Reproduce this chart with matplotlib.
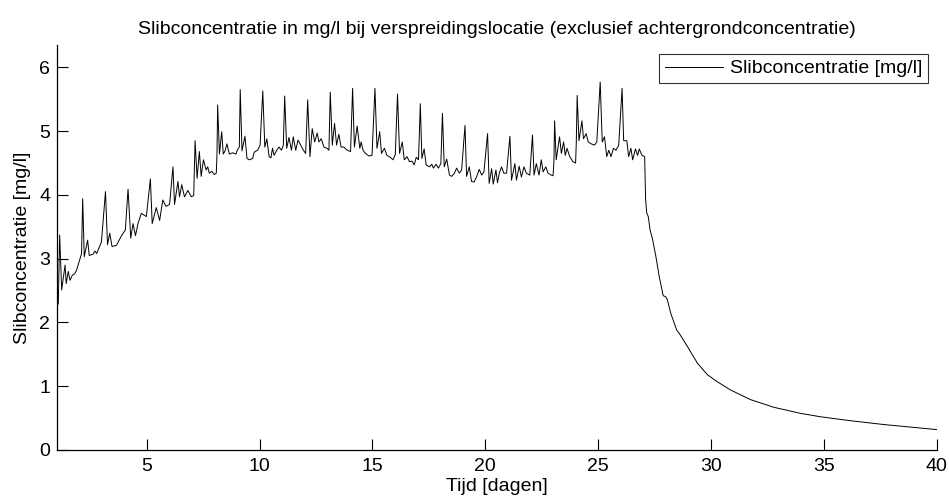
import matplotlib
matplotlib.use("Agg")
import matplotlib.pyplot as plt

plt.rcParams['font.family'] = ['Liberation Sans', 'DejaVu Sans']

# time in days
tijd = [1.00, 1.08, 1.14, 1.23, 1.38, 1.43, 1.52, 1.60, 1.70, 1.80, 1.89, 2.04, 2.11, 2.16, 2.23, 2.38, 2.45, 2.62, 2.70, 2.78, 2.99,
        3.17, 3.26, 3.36, 3.46, 3.66, 3.88, 4.05, 4.17, 4.29, 4.39, 4.50, 4.61, 4.76, 4.98,
        5.16, 5.24, 5.42, 5.57, 5.71, 5.85, 6.01, 6.16, 6.23, 6.38, 6.45, 6.55, 6.67, 6.82, 6.97, 7.08,
        7.14, 7.23, 7.33, 7.41, 7.51, 7.63, 7.70, 7.77, 7.88, 7.99, 8.08, 8.11,
        8.14, 8.22, 8.32, 8.39, 8.47, 8.55, 8.66, 8.80, 8.95, 9.02, 9.10,
        9.14, 9.22, 9.35, 9.44, 9.54, 9.69, 9.76, 9.91, 10.02,
        10.14, 10.23, 10.32, 10.42, 10.50, 10.57, 10.64, 10.76, 10.86, 10.97, 11.05,
        11.11, 11.20, 11.30, 11.41, 11.49, 11.60, 11.70, 11.82, 11.94, 12.04,
        12.13, 12.23, 12.33, 12.44, 12.55, 12.63, 12.73, 12.85, 12.99, 13.07,
        13.13, 13.22, 13.32, 13.41, 13.51, 13.61, 13.73, 13.88, 14.03,
        14.12, 14.20, 14.32, 14.44, 14.50, 14.58, 14.69, 14.84, 14.98,
        15.11, 15.20, 15.32, 15.40, 15.53, 15.64, 15.79, 15.91, 16.01,
        16.11, 16.20, 16.32, 16.41, 16.53, 16.64, 16.75, 16.85, 16.94, 17.04,
        17.12, 17.19, 17.29, 17.38, 17.53, 17.63, 17.70, 17.82, 17.92, 18.03,
        18.10, 18.18, 18.29, 18.41, 18.51, 18.63, 18.73, 18.85, 18.95,
        19.10, 19.17, 19.29, 19.39, 19.50, 19.61, 19.73, 19.84, 19.94,
        20.10, 20.17, 20.28, 20.35, 20.47, 20.54, 20.62, 20.72, 20.82, 20.94,
        21.09, 21.16, 21.31, 21.38, 21.50, 21.60, 21.71, 21.82, 21.97,
        22.09, 22.16, 22.26, 22.38, 22.48, 22.56, 22.68, 22.78, 22.92, 23.00, 23.04,
        23.07, 23.14, 23.29, 23.37, 23.47, 23.54, 23.62, 23.74, 23.88, 24.00, 24.03,
        24.07, 24.15, 24.28, 24.35, 24.47, 24.56, 24.69, 24.84, 24.94,
        25.09, 25.18, 25.28, 25.38, 25.47, 25.57, 25.68, 25.79, 25.91,
        26.06, 26.13, 26.27, 26.35, 26.45, 26.53, 26.65, 26.75, 26.82, 26.94, 27.06,
        27.10, 27.15, 27.22, 27.30, 27.40, 27.55, 27.70, 27.88, 28.00, 28.07, 28.22, 28.48, 28.59,
        28.96, 29.40, 29.84, 30.28, 30.87, 31.75, 32.78, 33.96, 34.87, 36.16, 37.64, 40.00]

# concentration in mg/l
slib = [2.22, 2.30, 3.37, 2.51, 2.90, 2.61, 2.80, 2.66, 2.74, 2.76, 2.82, 3.00, 3.08, 3.94, 3.03, 3.29, 3.05, 3.07, 3.12, 3.08, 3.26,
        4.05, 3.22, 3.40, 3.19, 3.21, 3.36, 3.45, 4.09, 3.32, 3.55, 3.36, 3.55, 3.71, 3.66,
        4.25, 3.55, 3.80, 3.60, 3.92, 3.82, 3.85, 4.44, 3.85, 4.21, 3.97, 4.16, 3.97, 4.07, 3.97, 3.99,
        4.85, 4.26, 4.68, 4.29, 4.55, 4.39, 4.44, 4.34, 4.37, 4.32, 4.34, 4.62,
        5.41, 4.64, 4.99, 4.64, 4.69, 4.80, 4.64, 4.66, 4.64, 4.71, 4.75,
        5.65, 4.69, 4.92, 4.57, 4.55, 4.57, 4.67, 4.70, 4.78,
        5.63, 4.75, 4.88, 4.60, 4.58, 4.73, 4.62, 4.70, 4.75, 4.70, 4.78,
        5.55, 4.73, 4.90, 4.70, 4.91, 4.70, 4.86, 4.78, 4.70, 4.65,
        5.49, 4.60, 5.04, 4.83, 4.97, 4.83, 4.88, 4.75, 4.73, 4.70,
        5.61, 4.78, 5.12, 4.78, 4.95, 4.75, 4.75, 4.70, 4.68,
        5.67, 4.75, 5.08, 4.73, 4.83, 4.70, 4.65, 4.61, 4.62,
        5.67, 4.73, 4.99, 4.65, 4.73, 4.62, 4.59, 4.55, 4.63,
        5.58, 4.65, 4.83, 4.55, 4.60, 4.52, 4.53, 4.47, 4.59, 4.55,
        5.43, 4.57, 4.72, 4.47, 4.44, 4.48, 4.42, 4.48, 4.42, 4.49,
        5.28, 4.44, 4.56, 4.31, 4.29, 4.34, 4.42, 4.34, 4.39,
        5.09, 4.29, 4.44, 4.21, 4.20, 4.28, 4.40, 4.31, 4.36,
        4.96, 4.18, 4.41, 4.17, 4.39, 4.19, 4.34, 4.44, 4.34, 4.34,
        4.92, 4.23, 4.49, 4.23, 4.45, 4.28, 4.44, 4.34, 4.31,
        4.94, 4.31, 4.49, 4.31, 4.55, 4.36, 4.44, 4.34, 4.31, 4.30, 4.52,
        5.16, 4.55, 4.91, 4.65, 4.83, 4.62, 4.73, 4.60, 4.52, 4.50, 4.81,
        5.56, 4.85, 5.16, 4.88, 4.96, 4.83, 4.80, 4.78, 4.83,
        5.77, 4.83, 4.91, 4.60, 4.70, 4.60, 4.73, 4.70, 4.78,
        5.67, 4.85, 4.85, 4.60, 4.73, 4.55, 4.72, 4.62, 4.72, 4.62, 4.60,
        3.95, 3.72, 3.66, 3.45, 3.32, 3.05, 2.73, 2.42, 2.40, 2.35, 2.14, 1.88, 1.83,
        1.62, 1.36, 1.18, 1.07, 0.94, 0.79, 0.67, 0.575, 0.52, 0.46, 0.40, 0.32]

xticks = [5, 10, 15, 20, 25, 30, 35, 40]
yticks = [0, 1, 2, 3, 4, 5, 6]

FS = 14

fig = plt.figure(figsize=(9.49, 5.01), dpi=100)
ax = fig.add_axes([56.5 / 949, 1 - 450 / 501, (936.7 - 56.5) / 949, (450 - 45) / 501])

ax.plot(tijd, slib, color='black', linewidth=0.7, label='Slibconcentratie [mg/l]')

ax.set_xlim(1, 40)
ax.set_ylim(0, 6.35)
ax.set_xticks(xticks)
ax.set_yticks(yticks)
ax.spines['top'].set_visible(False)
ax.spines['right'].set_visible(False)
for s in ('left', 'bottom'):
    ax.spines[s].set_linewidth(0.9)
ax.tick_params(direction='in', length=8, width=0.8, labelsize=FS, colors='black')
ax.tick_params(axis='x', pad=6)
ax.tick_params(axis='y', pad=4.5)

ax.set_title('Slibconcentratie in mg/l bij verspreidingslocatie (exclusief achtergrondconcentratie)',
             fontsize=FS, pad=8)
ax.set_xlabel('Tijd [dagen]', fontsize=FS, labelpad=2)
ax.set_ylabel('Slibconcentratie [mg/l]', fontsize=FS, labelpad=6)

leg = ax.legend(loc='upper right', bbox_to_anchor=(0.990, 0.978), borderaxespad=0,
                fontsize=FS, frameon=True, fancybox=False, handlelength=3.0,
                borderpad=0.3, handletextpad=0.35)
leg.get_frame().set_edgecolor('black')
leg.get_frame().set_linewidth(0.8)

fig.savefig('out.png', dpi=100)
